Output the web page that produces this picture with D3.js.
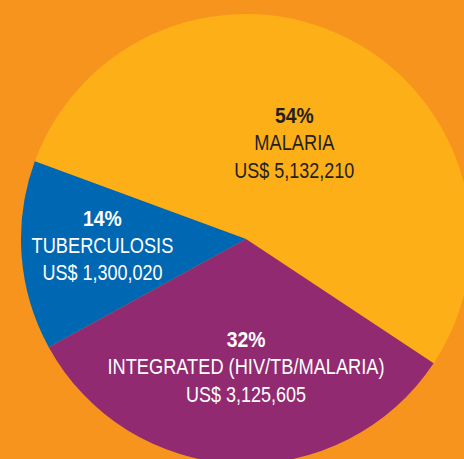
<!DOCTYPE html>
<html>
<head>
<meta charset="utf-8">
<script src="https://cdn.jsdelivr.net/npm/d3@7"></script>
<style>
  html, body { margin: 0; padding: 0; background: #F7941D; }
  svg { display: block; }
  .lbl { font-family: "Liberation Sans", Arial, sans-serif; font-size: 22.5px; }
  .pct { font-weight: bold; }
</style>
</head>
<body>
<svg id="chart" width="464" height="459"></svg>
<script>
// data
const categories = ['MALARIA', 'INTEGRATED (HIV/TB/MALARIA)', 'TUBERCULOSIS'];
const amounts = [5132210, 3125605, 1300020];
const percentLabels = ['54%', '32%', '14%'];

// layout
const width = 464, height = 459;
const cx = 246, cy = 239, radius = 225;
const colors = ['#FCAF17', '#922A71', '#0067B2'];
const textColors = ['#231F20', '#FFFFFF', '#FFFFFF'];
// label anchor (middle line) as fraction of radius, relative to centre
const labelPos = [[0.215, -0.395], [0, 0.6], [-0.638, 0.062]];
// condensed look: horizontal squeeze per line
const squeeze = { pct: 0.86, name: 0.81, amount: 0.8 };

const svg = d3.select('#chart');

svg.append('rect')
    .attr('width', width)
    .attr('height', height)
    .attr('fill', '#F7941D');

const g = svg.append('g')
    .attr('transform', `translate(${cx},${cy})`);

const pie = d3.pie()
    .sort(null)
    .startAngle(-69.8 * Math.PI / 180)
    .endAngle((360 - 69.8) * Math.PI / 180);

const arc = d3.arc()
    .innerRadius(0)
    .outerRadius(radius);

const arcs = pie(amounts);

g.selectAll('path.slice')
    .data(arcs)
    .join('path')
    .attr('class', 'slice')
    .attr('d', arc)
    .attr('fill', (d, i) => colors[i]);

const fmt = d3.format(',');

const labels = g.selectAll('g.label')
    .data(arcs)
    .join('g')
    .attr('class', 'label')
    .attr('transform', (d, i) => `translate(${labelPos[i][0] * radius},${labelPos[i][1] * radius})`);

function addLine(sel, cls, dy, sx, textFn) {
    sel.append('g')
        .attr('transform', `translate(0,${dy}) scale(${sx},1)`)
        .append('text')
        .attr('class', cls)
        .attr('text-anchor', 'middle')
        .attr('fill', (d, i) => textColors[i])
        .text(textFn);
}

addLine(labels, 'lbl pct', -27, squeeze.pct, (d, i) => percentLabels[i]);
addLine(labels, 'lbl', 0, squeeze.name, (d, i) => categories[i]);
addLine(labels, 'lbl', 27.5, squeeze.amount, (d, i) => 'US$ ' + fmt(amounts[i]));
</script>
</body>
</html>
